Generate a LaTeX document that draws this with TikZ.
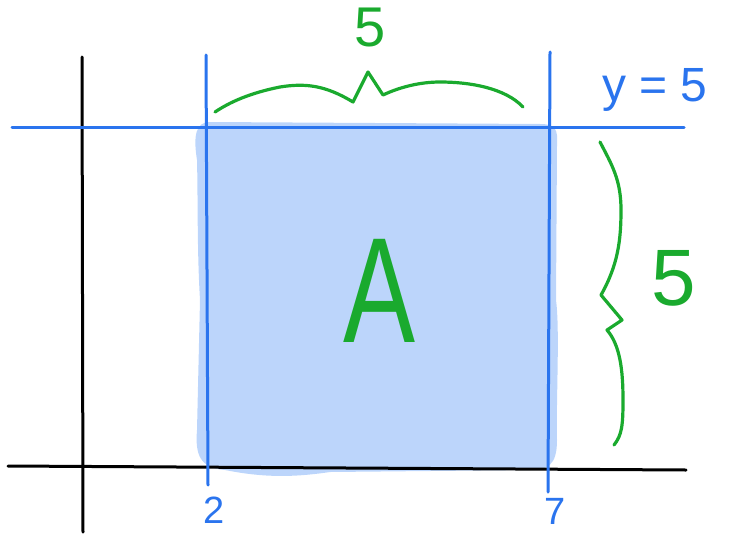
\documentclass[tikz,border=0pt]{standalone}
\usepackage{fontspec}
\setmainfont{Liberation Sans}
\begin{document}
\begin{tikzpicture}[x=1pt,y=-1pt,
  axis/.style={line width=3pt,black,line cap=round},
  blueline/.style={line width=3pt,draw=linecol,line cap=round},
  greenline/.style={line width=3.2pt,draw=grn,line cap=round,line join=round},
  greentxt/.style={text=grn,inner sep=0pt},
  bluetxt/.style={text=linecol,inner sep=0pt}]
\definecolor{linecol}{HTML}{2A74EE}
\definecolor{fillcol}{HTML}{BCD5FB}
\definecolor{grn}{HTML}{1AAA2E}
\useasboundingbox (0,0) rectangle (730,535);
% shaded region
\fill[fillcol] (210,122) -- (540,124) .. controls (556,124) and (558,130) .. (557,145)
  -- (556,300) .. controls (560,330) and (556,400) .. (557,440)
  .. controls (557,465) and (548,470) .. (530,470)
  -- (330,472) .. controls (290,478) and (260,477) .. (225,470)
  .. controls (200,468) and (195,455) .. (197,430)
  -- (200,300) .. controls (197,250) and (198,200) .. (197,160)
  .. controls (193,135) and (196,122) .. (210,122) -- cycle;
% axes
\coordinate (yaxT) at (82,57);
\coordinate (yaxB) at (83,532);
\coordinate (xaxL) at (8,466);
\coordinate (xaxR) at (686,470);
\draw[axis] (yaxT) -- (yaxB);
\draw[axis] (xaxL) -- (xaxR);
% blue lines
\coordinate (hL) at (12,127);
\coordinate (hR) at (684,127);
\coordinate (v2T) at (206,55);
\coordinate (v2B) at (208,485);
\coordinate (v7T) at (550,52);
\coordinate (v7B) at (548,492);
\draw[blueline] (hL) -- (hR);
\draw[blueline] (v2T) -- (v2B);
\draw[blueline] (v7T) -- (v7B);
% top brace
\coordinate (tbL) at (215,112);
\coordinate (tbP) at (368,72);
\coordinate (tbR) at (523,107);
\draw[greenline] (tbL) .. controls (230,102) and (250,93) .. (280,87)
  .. controls (305,83) and (325,85) .. (353,102) -- (tbP) -- (383,95)
  .. controls (400,87) and (420,82) .. (440,82)
  .. controls (470,82) and (505,88) .. (tbR);
% right brace
\coordinate (rbT) at (600,142);
\coordinate (rbP) at (601,295);
\coordinate (rbB) at (614,445);
\draw[greenline] (rbT) .. controls (612,165) and (621,180) .. (621,210)
  .. controls (621,240) and (618,265) .. (rbP) -- (622,320) -- (607,330)
  .. controls (620,345) and (623,370) .. (623,400)
  .. controls (623,425) and (622,435) .. (rbB);
% labels
\node[greentxt,font=\fontsize{56}{56}\selectfont] (top5) at (370,28) {5};
\node[greentxt,font=\fontsize{80}{80}\selectfont] (right5) at (674,278) {5};
\node[greentxt,font=\fontsize{150}{150}\selectfont,xscale=0.72] (A) at (380,291) {A};
\node[bluetxt,font=\fontsize{48}{48}\selectfont] (yeq) at (655,90) {y = 5};
\node[bluetxt,font=\fontsize{38}{38}\selectfont] (two) at (214,510) {2};
\node[bluetxt,font=\fontsize{38}{38}\selectfont] (seven) at (555,511) {7};
\end{tikzpicture}
\end{document}
